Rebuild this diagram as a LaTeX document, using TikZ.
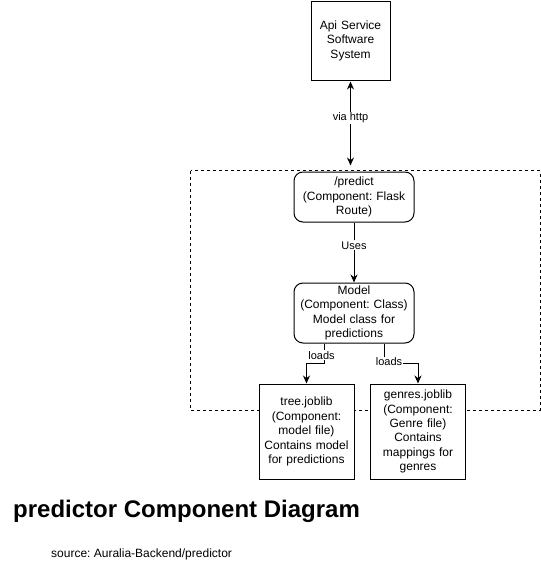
\documentclass[tikz,border=0pt]{standalone}
\usepackage{fontspec}
\setmainfont{Liberation Sans}
\frenchspacing
\usepackage{tikz}
\usetikzlibrary{positioning, arrows.meta}
\tikzset{
  font=\fontsize{12}{14.4}\selectfont,
  node distance=60pt,
  sysbox/.style={draw, rectangle, line width=1pt, fill=white, minimum width=79pt, minimum height=79pt, text width=75pt, align=center, inner sep=0pt},
  comp/.style={draw, rectangle, rounded corners=9pt, line width=1pt, fill=white, minimum width=120pt, text width=116pt, align=center, inner sep=0pt},
  filebox/.style={draw, rectangle, line width=1pt, fill=white, minimum width=95pt, minimum height=95pt, text width=91pt, align=center, inner sep=0pt},
  lbl/.style={fill=white, font=\fontsize{11}{13}\selectfont, inner sep=1pt},
  arr/.style={-{Stealth[length=8pt, width=7pt]}, line width=1pt},
  dblarr/.style={{Stealth[length=8pt, width=7pt]}-{Stealth[length=8pt, width=7pt]}, line width=1pt},
  frame/.style={draw, line width=1pt, dash pattern=on 3pt off 3pt}
}

\begin{document}
\begin{tikzpicture}[x=1pt, y=-1pt]
    \useasboundingbox (0,0) rectangle (541,571);
    \draw[frame] (190.7,170.7) rectangle (540,410);

    \node[sysbox] (api) at (350.5,40.5) {Api Service\\Software\\System};
    \node[comp, minimum height=50pt, below=91pt of api, xshift=3.5pt] (predict) {/predict\\(Component: Flask\\Route)};
    \node[comp, minimum height=60pt, below=60pt of predict] (model) {Model\\(Component: Class)\\Model class for\\predictions};
    \node[filebox, below=40pt of model, xshift=-47.5pt] (tree) {tree.joblib\\(Component:\\model file)\\Contains model\\for predictions};
    \node[filebox, below=40pt of model, xshift=64pt] (genres) {genres.joblib\\(Component:\\Genre file)\\Contains\\mappings for\\genres};

    \draw[dblarr, shorten <=1pt, shorten >=6pt] (api.south) -- node[lbl, pos=0.41] {via http} (api.south |- predict.north);
    \draw[arr] (predict) -- node[lbl, pos=0.38] {Uses} (model);
    \draw[arr] ([xshift=-30pt]model.south) -- node[lbl, pos=0.6, xshift=-2.5pt] {loads} ++(0,19.7) -| (tree.north);
    \draw[arr] ([xshift=30pt]model.south) -- ++(0,19.7) node[lbl, xshift=5pt, yshift=1.4pt] {loads} -| (genres.north);

    \node[anchor=base west, inner sep=0pt, font=\fontsize{24}{28}\selectfont\bfseries] (title) at (13,517) {predictor Component Diagram};
    \node[anchor=base west, inner sep=0pt] (source) at (51,557) {source: Auralia-Backend/predictor};
\end{tikzpicture}
\end{document}
